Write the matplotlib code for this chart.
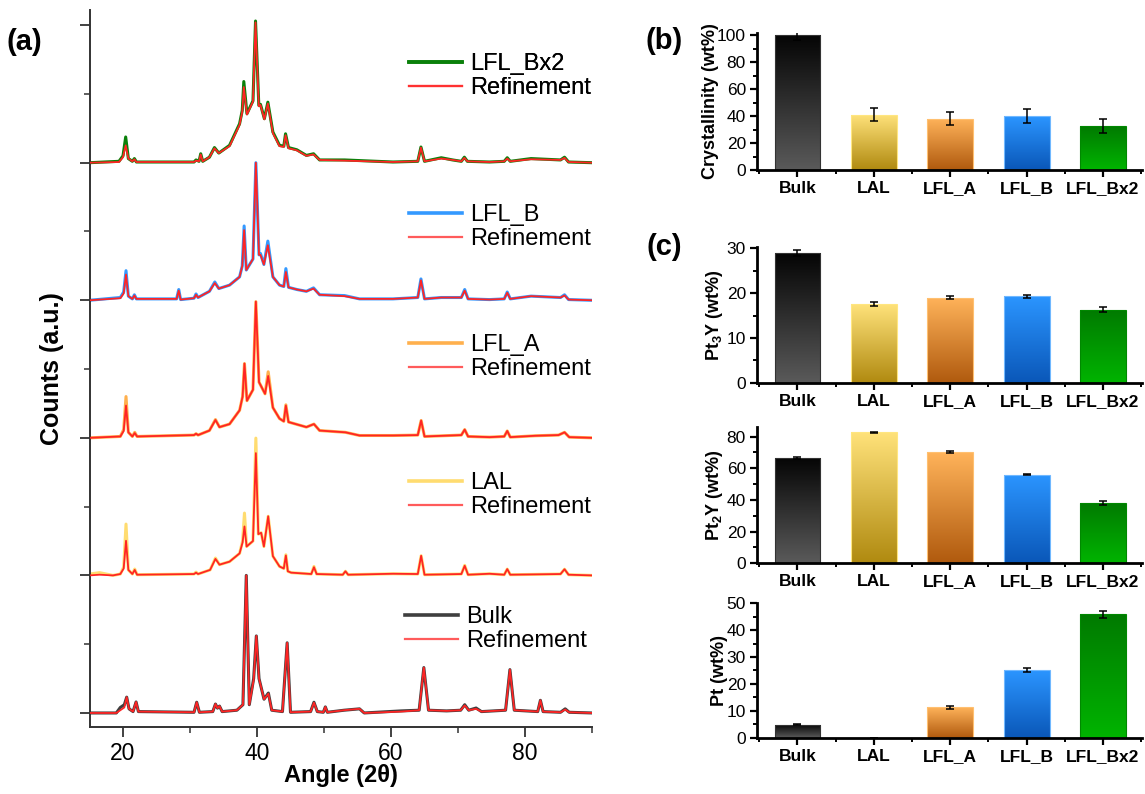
import numpy as np
import matplotlib
matplotlib.use("Agg")
import matplotlib.pyplot as plt
from matplotlib.colors import LinearSegmentedColormap
from matplotlib.ticker import MultipleLocator

plt.rcParams['font.family'] = ['Liberation Sans', 'DejaVu Sans']
plt.rcParams['mathtext.fontset'] = 'custom'
plt.rcParams['mathtext.rm'] = 'Liberation Sans'
plt.rcParams['mathtext.bf'] = 'Liberation Sans:bold'

tt_bulk = [15, 19.0, 19.6, 20.2, 20.55, 20.9, 21.5, 21.95, 22.3, 30.6, 31.0, 31.4, 33.4, 33.8, 34.1,
           34.4, 34.8, 37.0, 37.9, 38.4, 38.85, 39.5, 39.9, 40.3, 40.7, 41.05, 41.7, 42.2, 43.8, 44.5,
           45.0, 48.0, 48.5, 49.0, 49.9, 50.2, 50.5, 53.0, 55.3, 56.0, 61.5, 64.2, 64.9, 65.6, 68.3,
           70.4, 71.0, 71.6, 72.7, 73.5, 77.1, 77.75, 78.4, 81.9, 82.3, 82.7, 85.3, 86.0, 86.6, 90]
obs_bulk = [0, 0, 0.04, 0.06, 0.115, 0.03, 0.01, 0.08, 0.01, 0.005, 0.078, 0.005, 0.01, 0.065, 0.035,
            0.05, 0.01, 0.02, 0.06, 1.0, 0.06, 0.25, 0.56, 0.25, 0.17, 0.10, 0.145, 0.02, 0.01, 0.51,
            0.005, 0.01, 0.078, 0.01, 0.005, 0.044, 0.005, 0.02, 0.03, 0.0, 0.015, 0.02, 0.33, 0.02, 0.015,
            0.02, 0.06, 0.02, 0.036, 0.01, 0.02, 0.315, 0.02, 0.01, 0.092, 0.01, 0.005, 0.03, 0.005, 0]
fit_bulk = [0, 0, 0.02, 0.04, 0.115, 0.03, 0.01, 0.08, 0.01, 0.005, 0.078, 0.005, 0.01, 0.065, 0.035,
            0.05, 0.01, 0.02, 0.06, 1.0, 0.06, 0.24, 0.56, 0.25, 0.17, 0.10, 0.14, 0.02, 0.01, 0.51,
            0.005, 0.01, 0.075, 0.01, 0.005, 0.044, 0.005, 0.02, 0.03, 0.0, 0.01, 0.02, 0.33, 0.02, 0.015,
            0.02, 0.055, 0.02, 0.03, 0.01, 0.02, 0.315, 0.02, 0.01, 0.092, 0.01, 0.005, 0.025, 0.005, 0]

tt_lal = [15, 16.5, 18.5, 19.6, 20.1, 20.45, 20.8, 21.4, 21.75, 22.1, 30.6, 30.9, 31.2, 33.0, 33.8,
          34.4, 35.9, 37.4, 37.85, 38.13, 38.45, 39.4, 39.83, 40.2, 40.62, 41.03, 41.67, 42.37, 43.36, 44.0,
          44.31, 44.6, 45.1, 48.1, 48.5, 48.9, 52.8, 53.2, 53.6, 60.3, 64.0, 64.5, 65.0, 70.5, 71.0,
          71.5, 74.7, 76.9, 77.35, 77.8, 85.3, 85.9, 86.5, 90]
obs_lal = [0.01, 0.02, 0.0, 0.01, 0.06, 0.373, 0.04, 0.01, 0.046, 0.005, 0.01, 0.024, 0.01, 0.04, 0.126,
           0.078, 0.10, 0.16, 0.25, 0.453, 0.21, 0.25, 0.998, 0.30, 0.31, 0.21, 0.43, 0.14, 0.065, 0.05,
           0.15, 0.03, 0.02, 0.01, 0.065, 0.01, 0.005, 0.03, 0.005, 0.012, 0.01, 0.143, 0.005, 0.01, 0.073,
           0.005, 0.012, 0.005, 0.046, 0.005, 0.01, 0.045, 0.005, 0]
fit_lal = [0, 0.005, 0.0, 0.01, 0.05, 0.252, 0.04, 0.01, 0.04, 0.005, 0.01, 0.02, 0.01, 0.04, 0.12,
           0.078, 0.10, 0.16, 0.24, 0.356, 0.21, 0.25, 0.889, 0.30, 0.31, 0.21, 0.43, 0.14, 0.065, 0.05,
           0.145, 0.03, 0.02, 0.01, 0.06, 0.01, 0.005, 0.03, 0.005, 0.012, 0.01, 0.143, 0.005, 0.01, 0.07,
           0.005, 0.012, 0.005, 0.046, 0.005, 0.01, 0.045, 0.005, 0]

tt_a = [15, 19.6, 20.1, 20.45, 20.8, 21.4, 21.75, 22.1, 30.6, 30.9, 31.2, 32.9, 33.8, 34.4, 35.9,
        37.4, 37.85, 38.13, 38.5, 39.4, 39.83, 40.3, 40.67, 41.2, 41.67, 42.37, 43.36, 44.0, 44.31, 44.7,
        47.37, 48.5, 49.34, 53.2, 55.3, 60.3, 64.0, 64.5, 65.0, 70.5, 71.0, 71.5, 74.7, 76.9, 77.35,
        77.8, 81.5, 85.0, 85.9, 86.6, 90]
obs_a = [0, 0.01, 0.06, 0.30, 0.04, 0.01, 0.04, 0.01, 0.02, 0.03, 0.02, 0.053, 0.133, 0.078, 0.10,
         0.20, 0.30, 0.54, 0.27, 0.35, 0.99, 0.405, 0.37, 0.32, 0.48, 0.22, 0.14, 0.12, 0.24, 0.115,
         0.078, 0.10, 0.053, 0.04, 0.017, 0.017, 0.02, 0.126, 0.01, 0.02, 0.06, 0.01, 0.005, 0.01, 0.05,
         0.005, 0.015, 0.02, 0.04, 0.005, 0]
fit_a = [0, 0.01, 0.05, 0.235, 0.04, 0.01, 0.035, 0.01, 0.02, 0.03, 0.02, 0.053, 0.13, 0.078, 0.10,
         0.20, 0.30, 0.54, 0.27, 0.35, 0.99, 0.405, 0.37, 0.32, 0.45, 0.22, 0.14, 0.12, 0.235, 0.115,
         0.078, 0.10, 0.053, 0.04, 0.017, 0.017, 0.02, 0.126, 0.01, 0.02, 0.06, 0.01, 0.005, 0.01, 0.05,
         0.005, 0.015, 0.02, 0.04, 0.005, 0]

tt_b = [15, 19.6, 20.1, 20.45, 20.8, 21.4, 21.7, 22.0, 28.0, 28.32, 28.6, 30.6, 30.9, 31.2, 32.9,
        33.7, 34.3, 35.9, 37.4, 37.8, 38.08, 38.4, 39.4, 39.83, 40.3, 40.52, 41.03, 41.62, 42.37, 43.36,
        44.0, 44.31, 44.7, 45.97, 47.37, 48.44, 49.34, 53.07, 55.3, 60.3, 64.0, 64.47, 65.0, 67.5, 70.5,
        71.0, 71.5, 74.7, 76.9, 77.35, 77.8, 80.9, 85.3, 85.9, 86.5, 90]
obs_b = [0, 0.02, 0.06, 0.215, 0.03, 0.01, 0.04, 0.01, 0.01, 0.078, 0.005, 0.015, 0.046, 0.02, 0.065,
         0.133, 0.085, 0.11, 0.17, 0.25, 0.54, 0.22, 0.30, 1.0, 0.33, 0.34, 0.26, 0.43, 0.17, 0.11,
         0.10, 0.23, 0.094, 0.078, 0.065, 0.09, 0.04, 0.034, 0.01, 0.01, 0.02, 0.155, 0.01, 0.02, 0.02,
         0.078, 0.01, 0.005, 0.01, 0.06, 0.01, 0.03, 0.02, 0.04, 0.005, 0]
fit_b = [0, 0.015, 0.05, 0.187, 0.03, 0.01, 0.035, 0.01, 0.01, 0.07, 0.005, 0.015, 0.04, 0.02, 0.065,
         0.125, 0.085, 0.11, 0.17, 0.25, 0.51, 0.22, 0.30, 1.0, 0.33, 0.33, 0.26, 0.40, 0.17, 0.11,
         0.10, 0.206, 0.094, 0.078, 0.065, 0.085, 0.04, 0.03, 0.01, 0.01, 0.02, 0.145, 0.01, 0.02, 0.02,
         0.07, 0.01, 0.005, 0.01, 0.055, 0.01, 0.03, 0.02, 0.035, 0.005, 0]

tt_bx2 = [15, 19.4, 20.0, 20.4, 20.8, 21.4, 21.7, 22.0, 30.6, 30.9, 31.35, 31.6, 31.9, 32.9, 33.65,
          34.3, 35.9, 37.4, 37.8, 38.03, 38.5, 39.4, 39.78, 40.27, 40.52, 41.1, 41.62, 42.37, 43.36, 44.0,
          44.26, 44.7, 45.94, 47.37, 48.44, 49.34, 53.07, 60.3, 64.0, 64.47, 65.0, 67.5, 69.2, 70.5, 70.95,
          71.4, 74.7, 76.9, 77.35, 77.8, 80.9, 85.3, 85.9, 86.5, 90]
obs_bx2 = [0, 0.01, 0.05, 0.187, 0.03, 0.01, 0.03, 0.005, 0.005, 0.02, 0.01, 0.065, 0.01, 0.04, 0.11,
           0.07, 0.126, 0.283, 0.38, 0.59, 0.356, 0.45, 1.03, 0.417, 0.424, 0.32, 0.44, 0.223, 0.126, 0.12,
           0.21, 0.11, 0.094, 0.053, 0.065, 0.02, 0.02, 0.005, 0.01, 0.114, 0.01, 0.036, 0.02, 0.01, 0.04,
           0.01, 0.005, 0.01, 0.036, 0.01, 0.03, 0.02, 0.04, 0.005, 0]
fit_bx2 = [0, 0.005, 0.04, 0.126, 0.03, 0.01, 0.025, 0.005, 0.005, 0.015, 0.01, 0.06, 0.01, 0.04, 0.105,
           0.07, 0.12, 0.275, 0.37, 0.55, 0.35, 0.445, 1.02, 0.41, 0.42, 0.315, 0.43, 0.215, 0.12, 0.115,
           0.2, 0.105, 0.09, 0.05, 0.06, 0.02, 0.015, 0.005, 0.01, 0.11, 0.01, 0.03, 0.02, 0.01, 0.035,
           0.01, 0.005, 0.01, 0.03, 0.01, 0.025, 0.02, 0.035, 0.005, 0]

## ---- bar data ----
samples = ['Bulk', 'LAL', 'LFL_A', 'LFL_B', 'LFL_Bx2']
crystallinity = [100, 41, 38, 40, 32.5]
crystallinity_err = [4, 5, 5, 5, 5]
pt3y = [29.0, 17.6, 19.0, 19.3, 16.3]
pt3y_err = [0.7, 0.4, 0.3, 0.3, 0.6]
pt2y = [66.5, 82.7, 70.1, 56.0, 38.3]
pt2y_err = [0.5, 0.4, 0.6, 0.5, 1.2]
pt = [4.9, 0, 11.3, 25.2, 45.9]
pt_err = [0.2, 0, 0.6, 0.7, 1.3]

## colours
data_colors = ['#3f3f3f', '#ffdc70', '#ffb04d', '#3399ff', '#0a800a']
fit_color = '#ff2424'
bar_top = ['#050505', '#ffe27a', '#ffb35a', '#2b95ff', '#007a00']
bar_bottom = ['#5a5a5a', '#b08a10', '#b05a0e', '#0a57b8', '#00b400']
bar_edge = ['#333333', '#ffe680', '#ffc070', '#70b8ff', '#008800']

W, H = 1145, 794
fig = plt.figure(figsize=(W / 100, H / 100), dpi=100)

## ---------------- (a) XRD ----------------
ax = fig.add_axes([89.5 / W, 1 - 727 / H, (592 - 89.5) / W, (727 - 10) / H])
patterns = [(tt_bulk, obs_bulk, fit_bulk), (tt_lal, obs_lal, fit_lal), (tt_a, obs_a, fit_a),
            (tt_b, obs_b, fit_b), (tt_bx2, obs_bx2, fit_bx2)]
legend_anchor = [(405, 629), (409, 495), (409, 357), (409, 227), (409, 76)]
for i, (tt, obs, fit) in enumerate(patterns):
    l1, = ax.plot(tt, np.array(obs) + i, color=data_colors[i], lw=2.2, zorder=2,
                  solid_joinstyle='round')
    l2, = ax.plot(tt, np.array(fit) + i, color=fit_color, lw=1.3, zorder=3,
                  solid_joinstyle='round')
    leg = ax.legend([l1, l2], [samples[i], 'Refinement'], loc='center left',
                    bbox_to_anchor=(legend_anchor[i][0] / W, 1 - legend_anchor[i][1] / H),
                    bbox_transform=fig.transFigure, frameon=False, fontsize=17,
                    handlelength=2.25, handletextpad=0.35, labelspacing=0.1,
                    borderpad=0, borderaxespad=0)
    leg.get_lines()[0].set_linewidth(2.6)
    leg.get_lines()[1].set_linewidth(1.6)
    leg.get_lines()[1].set_alpha(0.75)
    ax.add_artist(leg)

ax.set_xlim(15, 90)
ax.set_ylim(-0.102, 5.11)
ax.xaxis.set_major_locator(MultipleLocator(20))
ax.xaxis.set_minor_locator(MultipleLocator(10))
ax.yaxis.set_major_locator(MultipleLocator(1))
ax.yaxis.set_minor_locator(MultipleLocator(0.5))
ax.set_yticklabels([])
ax.tick_params(which='major', direction='out', length=7, width=1.3, labelsize=16.5, colors='#333333')
ax.tick_params(which='minor', direction='out', length=4, width=1.1, colors='#333333')
ax.tick_params(axis='x', labelcolor='black')
for s in ['top', 'right']:
    ax.spines[s].set_visible(False)
for s in ['left', 'bottom']:
    ax.spines[s].set_linewidth(1.4)
    ax.spines[s].set_color('#333333')
ax.set_xlabel('Angle (2θ)', fontsize=17, fontweight='bold')
ax.xaxis.set_label_coords(0.5, -0.052)
ax.set_ylabel('Counts (a.u.)', fontsize=18, fontweight='bold')
ax.yaxis.set_label_coords(-0.051, 0.5)

## ---------------- bar panels ----------------
def bar_panel(rect, values, errs, ymax, major, ylabel, label_x):
    bx = fig.add_axes(rect)
    x = np.arange(1, len(samples) + 1)
    bars = bx.bar(x, values, width=0.6, facecolor='none', edgecolor=bar_edge, linewidth=0.8, zorder=2)
    grad = np.linspace(0, 1, 128).reshape(-1, 1)
    for j, bar in enumerate(bars):
        h = bar.get_height()
        if h <= 0:
            continue
        cmap = LinearSegmentedColormap.from_list('g%d' % j, [bar_bottom[j], bar_top[j]])
        im = bx.imshow(grad, extent=[bar.get_x(), bar.get_x() + bar.get_width(), 0, h],
                       origin='lower', aspect='auto', cmap=cmap, zorder=1.5)
        im.set_clip_path(bar)
    bx.errorbar(x, values, yerr=errs, fmt='none', ecolor='black', elinewidth=1.1,
                capsize=3, capthick=1.1, zorder=3)
    bx.set_xlim(0.47, 5.51)
    bx.set_ylim(0, ymax)
    bx.set_xticks(x, samples, fontweight='bold')
    bx.xaxis.set_minor_locator(MultipleLocator(0.5))
    bx.yaxis.set_major_locator(MultipleLocator(major))
    bx.yaxis.set_minor_locator(MultipleLocator(major / 2))
    bx.tick_params(which='major', direction='out', length=5, width=1.6, labelsize=12.5, pad=3)
    bx.tick_params(which='minor', direction='out', length=3, width=1.4)
    for s in ['top', 'right']:
        bx.spines[s].set_visible(False)
    for s in ['left', 'bottom']:
        bx.spines[s].set_linewidth(2.0)
    bx.set_ylabel(ylabel, fontsize=13, fontweight='bold')
    bx.yaxis.set_label_coords(label_x, 0.5)
    return bx

x0, x1 = 757 / W, (1142 - 757) / W
bar_panel([x0, 1 - 170 / H, x1, 137 / H], crystallinity, crystallinity_err, 101.5, 20,
          'Crystallinity (wt%)', -0.099)
bar_panel([x0, 1 - 382.7 / H, x1, 136 / H], pt3y, pt3y_err, 30.36, 10,
          r'Pt$_\mathbf{3}$Y (wt%)', -0.083)
bar_panel([x0, 1 - 563.3 / H, x1, 136.3 / H], pt2y, pt2y_err, 86.1, 20,
          r'Pt$_\mathbf{2}$Y (wt%)', -0.083)
bar_panel([x0, 1 - 737.7 / H, x1, 135 / H], pt, pt_err, 50.2, 10,
          'Pt (wt%)', -0.075)

## panel letters
fig.text(24 / W, 1 - 42 / H, '(a)', fontsize=21, fontweight='bold', ha='center', va='center')
fig.text(664 / W, 1 - 41 / H, '(b)', fontsize=21, fontweight='bold', ha='center', va='center')
fig.text(664 / W, 1 - 247 / H, '(c)', fontsize=21, fontweight='bold', ha='center', va='center')

fig.savefig('out.png', dpi=100)
